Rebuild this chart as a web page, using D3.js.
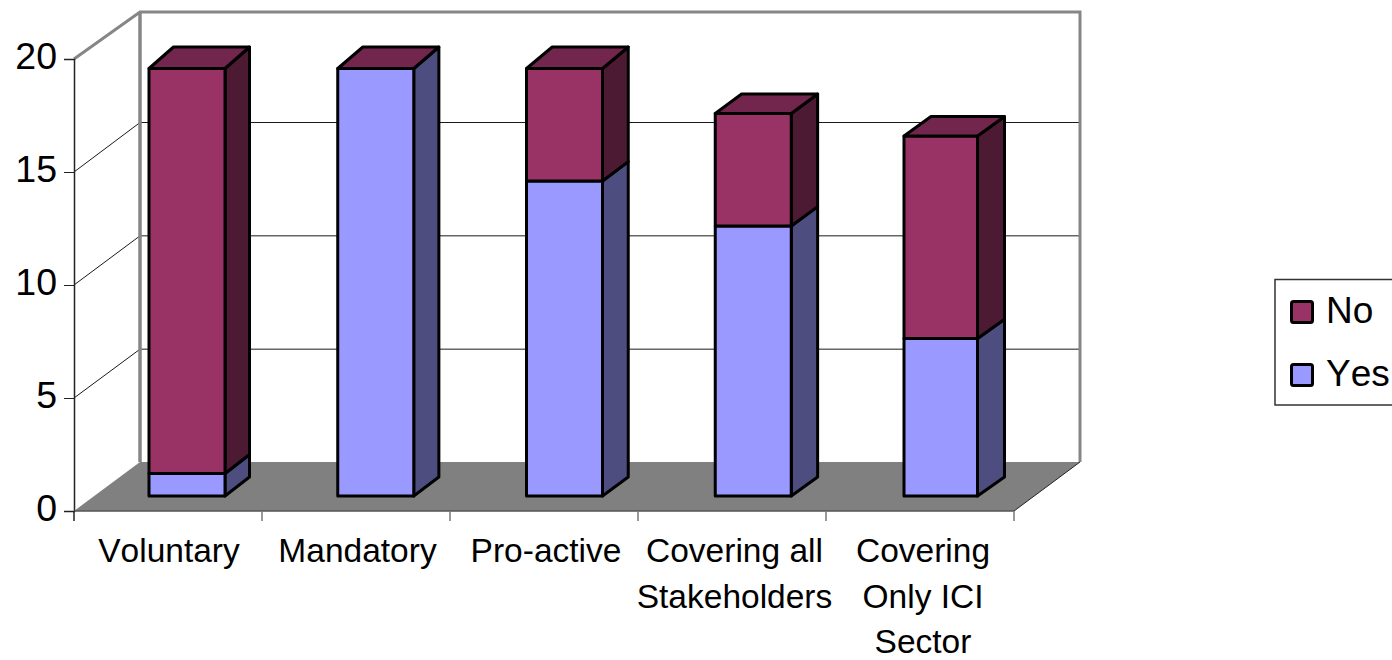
<!DOCTYPE html>
<html>
<head>
<meta charset="utf-8">
<script src="https://cdn.jsdelivr.net/npm/d3@7"></script>
<style>
html, body { margin: 0; padding: 0; background: #fff; overflow: hidden; }
svg { display: block; }
text { font-family: "Liberation Sans", Arial, sans-serif; fill: #000; font-kerning: none; }
</style>
</head>
<body>
<svg id="chart" width="1392" height="660"></svg>
<script>
// Chart content
const categories = ["Voluntary", "Mandatory", "Pro-active", "Covering all|Stakeholders", "Covering|Only ICI|Sector"];
const yesValues = [1, 19, 14, 12, 7];
const noValues = [18, 0, 5, 5, 9];
const yTicks = [0, 5, 10, 15, 20];
const legendItems = ["No", "Yes"];

// Fill colours: front, side and top of each series
const palette = {
  Yes: { front: "#9999ff", side: "#4d4d80", top: "#737399" },
  No: { front: "#993366", side: "#4d1a33", top: "#73264d" }
};

const svg = d3.select("#chart");

// Front plane of the plot box
const x = d3.scaleBand().domain(categories).range([74, 1014]);
const y = d3.scaleLinear().domain([0, 20]).range([511, 59]);

// Back wall of the plot box, pushed back by the oblique projection
const wallDx = 66;
const wallY = d3.scaleLinear().domain([0, 15, 20]).range([462, 122, 12]);

// Column faces: the front face and the rear edge have their own scales
const barLeft = d3.scalePoint().domain(categories).range([149, 904]);
const barWidths = [76, 76, 76, 76, 73.5];
const barDepth = d3.scaleLinear().domain([0, 4]).range([24.5, 27]);
const frontY = d3.scaleLinear().domain([0, 19]).range([496, 68.5]);
const rearY = d3.scaleLinear().domain([0, 17, 19]).range([477, 94, 47]);

const wallGrey = "#868686";
const poly = pts => pts.map(p => p.join(",")).join(" ");
const x0 = x.range()[0], x1 = x.range()[1];

// Floor
svg.append("polygon")
  .attr("points", poly([[x0, y(0)], [x1, y(0)], [x1 + wallDx, wallY(0)], [x0 + wallDx, wallY(0)]]))
  .attr("fill", "#808080");

// Gridlines running along the side wall and the back wall
const grid = svg.append("g").attr("stroke", "#1a1a1a").attr("stroke-width", 1).attr("fill", "none");
yTicks.filter(t => t > 0 && t < 20).forEach(t => {
  grid.append("polyline")
    .attr("points", poly([[x0, y(t)], [x0 + wallDx, wallY(t) + 0.5], [x1 + wallDx, wallY(t) + 0.5]]));
});

// Wall outline
svg.append("polyline")
  .attr("points", poly([[x0, y(20)], [x0 + wallDx, wallY(20)], [x1 + wallDx, wallY(20)], [x1 + wallDx, wallY(0)]]))
  .attr("fill", "none").attr("stroke", wallGrey).attr("stroke-width", 3);
svg.append("line")
  .attr("x1", x0 + wallDx).attr("x2", x0 + wallDx)
  .attr("y1", wallY(20)).attr("y2", wallY(0))
  .attr("stroke", wallGrey).attr("stroke-width", 3.5);
svg.append("line")
  .attr("x1", x1).attr("y1", y(0))
  .attr("x2", x1 + wallDx).attr("y2", wallY(0))
  .attr("stroke", "#222").attr("stroke-width", 1);

// Stacked 3D columns
const series = [
  { key: "Yes", values: yesValues },
  { key: "No", values: noValues }
];
const barsLayer = svg.append("g")
  .attr("stroke", "#000").attr("stroke-width", 3).attr("stroke-linejoin", "round");

categories.forEach((cat, i) => {
  const left = barLeft(cat);
  const right = left + barWidths[i];
  const dx = barDepth(i);
  let acc = 0;
  series.forEach((s, si) => {
    const v = s.values[i];
    const lo = acc, hi = acc + v;
    const c = palette[s.key];
    const g = barsLayer.append("g").attr("class", "segment");
    if (v > 0) {
      g.append("polygon")
        .attr("points", poly([[right, frontY(lo)], [right + dx, rearY(lo)], [right + dx, rearY(hi)], [right, frontY(hi)]]))
        .attr("fill", c.side);
      g.append("rect")
        .attr("x", left).attr("y", frontY(hi))
        .attr("width", right - left).attr("height", frontY(lo) - frontY(hi))
        .attr("fill", c.front);
    }
    // Only the last series in the stack shows its cap
    if (si === series.length - 1) {
      g.append("polygon")
        .attr("points", poly([[left, frontY(hi)], [right, frontY(hi)], [right + dx, rearY(hi)], [left + dx, rearY(hi)]]))
        .attr("fill", c.top);
    }
    acc = hi;
  });
});

// Value axis
const yAxis = svg.append("g").attr("transform", `translate(${x0},0)`)
  .call(d3.axisLeft(y).tickValues(yTicks).tickSize(10).tickFormat(d3.format("d")));
yAxis.select(".domain").attr("stroke", "#222").attr("stroke-width", 1.5);
yAxis.selectAll(".tick line").attr("stroke", "#222");
yAxis.selectAll(".tick text")
  .attr("font-family", null).style("font-size", "37.5px")
  .attr("dy", 0).attr("y", 9.5).attr("x", -17);

// Category axis
const tickPositions = x.domain().map(d => x(d)).concat([x1]);
const xAxisG = svg.append("g");
xAxisG.append("line").attr("x1", x0).attr("x2", x1).attr("y1", y(0)).attr("y2", y(0))
  .attr("stroke", "#555").attr("stroke-width", 1.5);
xAxisG.selectAll("line.tick").data(tickPositions).enter().append("line")
  .attr("class", "tick")
  .attr("x1", d => d).attr("x2", d => d)
  .attr("y1", y(0)).attr("y2", y(0) + 10)
  .attr("stroke", (d, i) => i === 0 ? "#222" : "#777").attr("stroke-width", 1.5);

const labelCenter = d3.scalePoint().domain(categories).range([169, 923]);
const labelLineHeight = 45.5;
const labels = svg.append("g").attr("text-anchor", "middle").style("font-size", "33.5px");
categories.forEach(cat => {
  cat.split("|").forEach((line, li) => {
    labels.append("text")
      .attr("x", labelCenter(cat))
      .attr("y", 562 + li * labelLineHeight)
      .text(line);
  });
});

// Legend
const legend = svg.append("g");
legend.append("rect").attr("x", 1275).attr("y", 279.5).attr("width", 130).attr("height", 125.5)
  .attr("fill", "#fff").attr("stroke", "#333").attr("stroke-width", 1.5);
legendItems.forEach((name, i) => {
  const rowY = 312 + i * 63;
  legend.append("rect")
    .attr("x", 1291.5).attr("y", rowY - 10.5).attr("width", 21).attr("height", 21).attr("rx", 2)
    .attr("fill", palette[name].front).attr("stroke", "#000").attr("stroke-width", 3);
  legend.append("text").attr("x", 1326).attr("y", rowY + 10.5).style("font-size", "37px").text(name);
});
</script>
</body>
</html>
